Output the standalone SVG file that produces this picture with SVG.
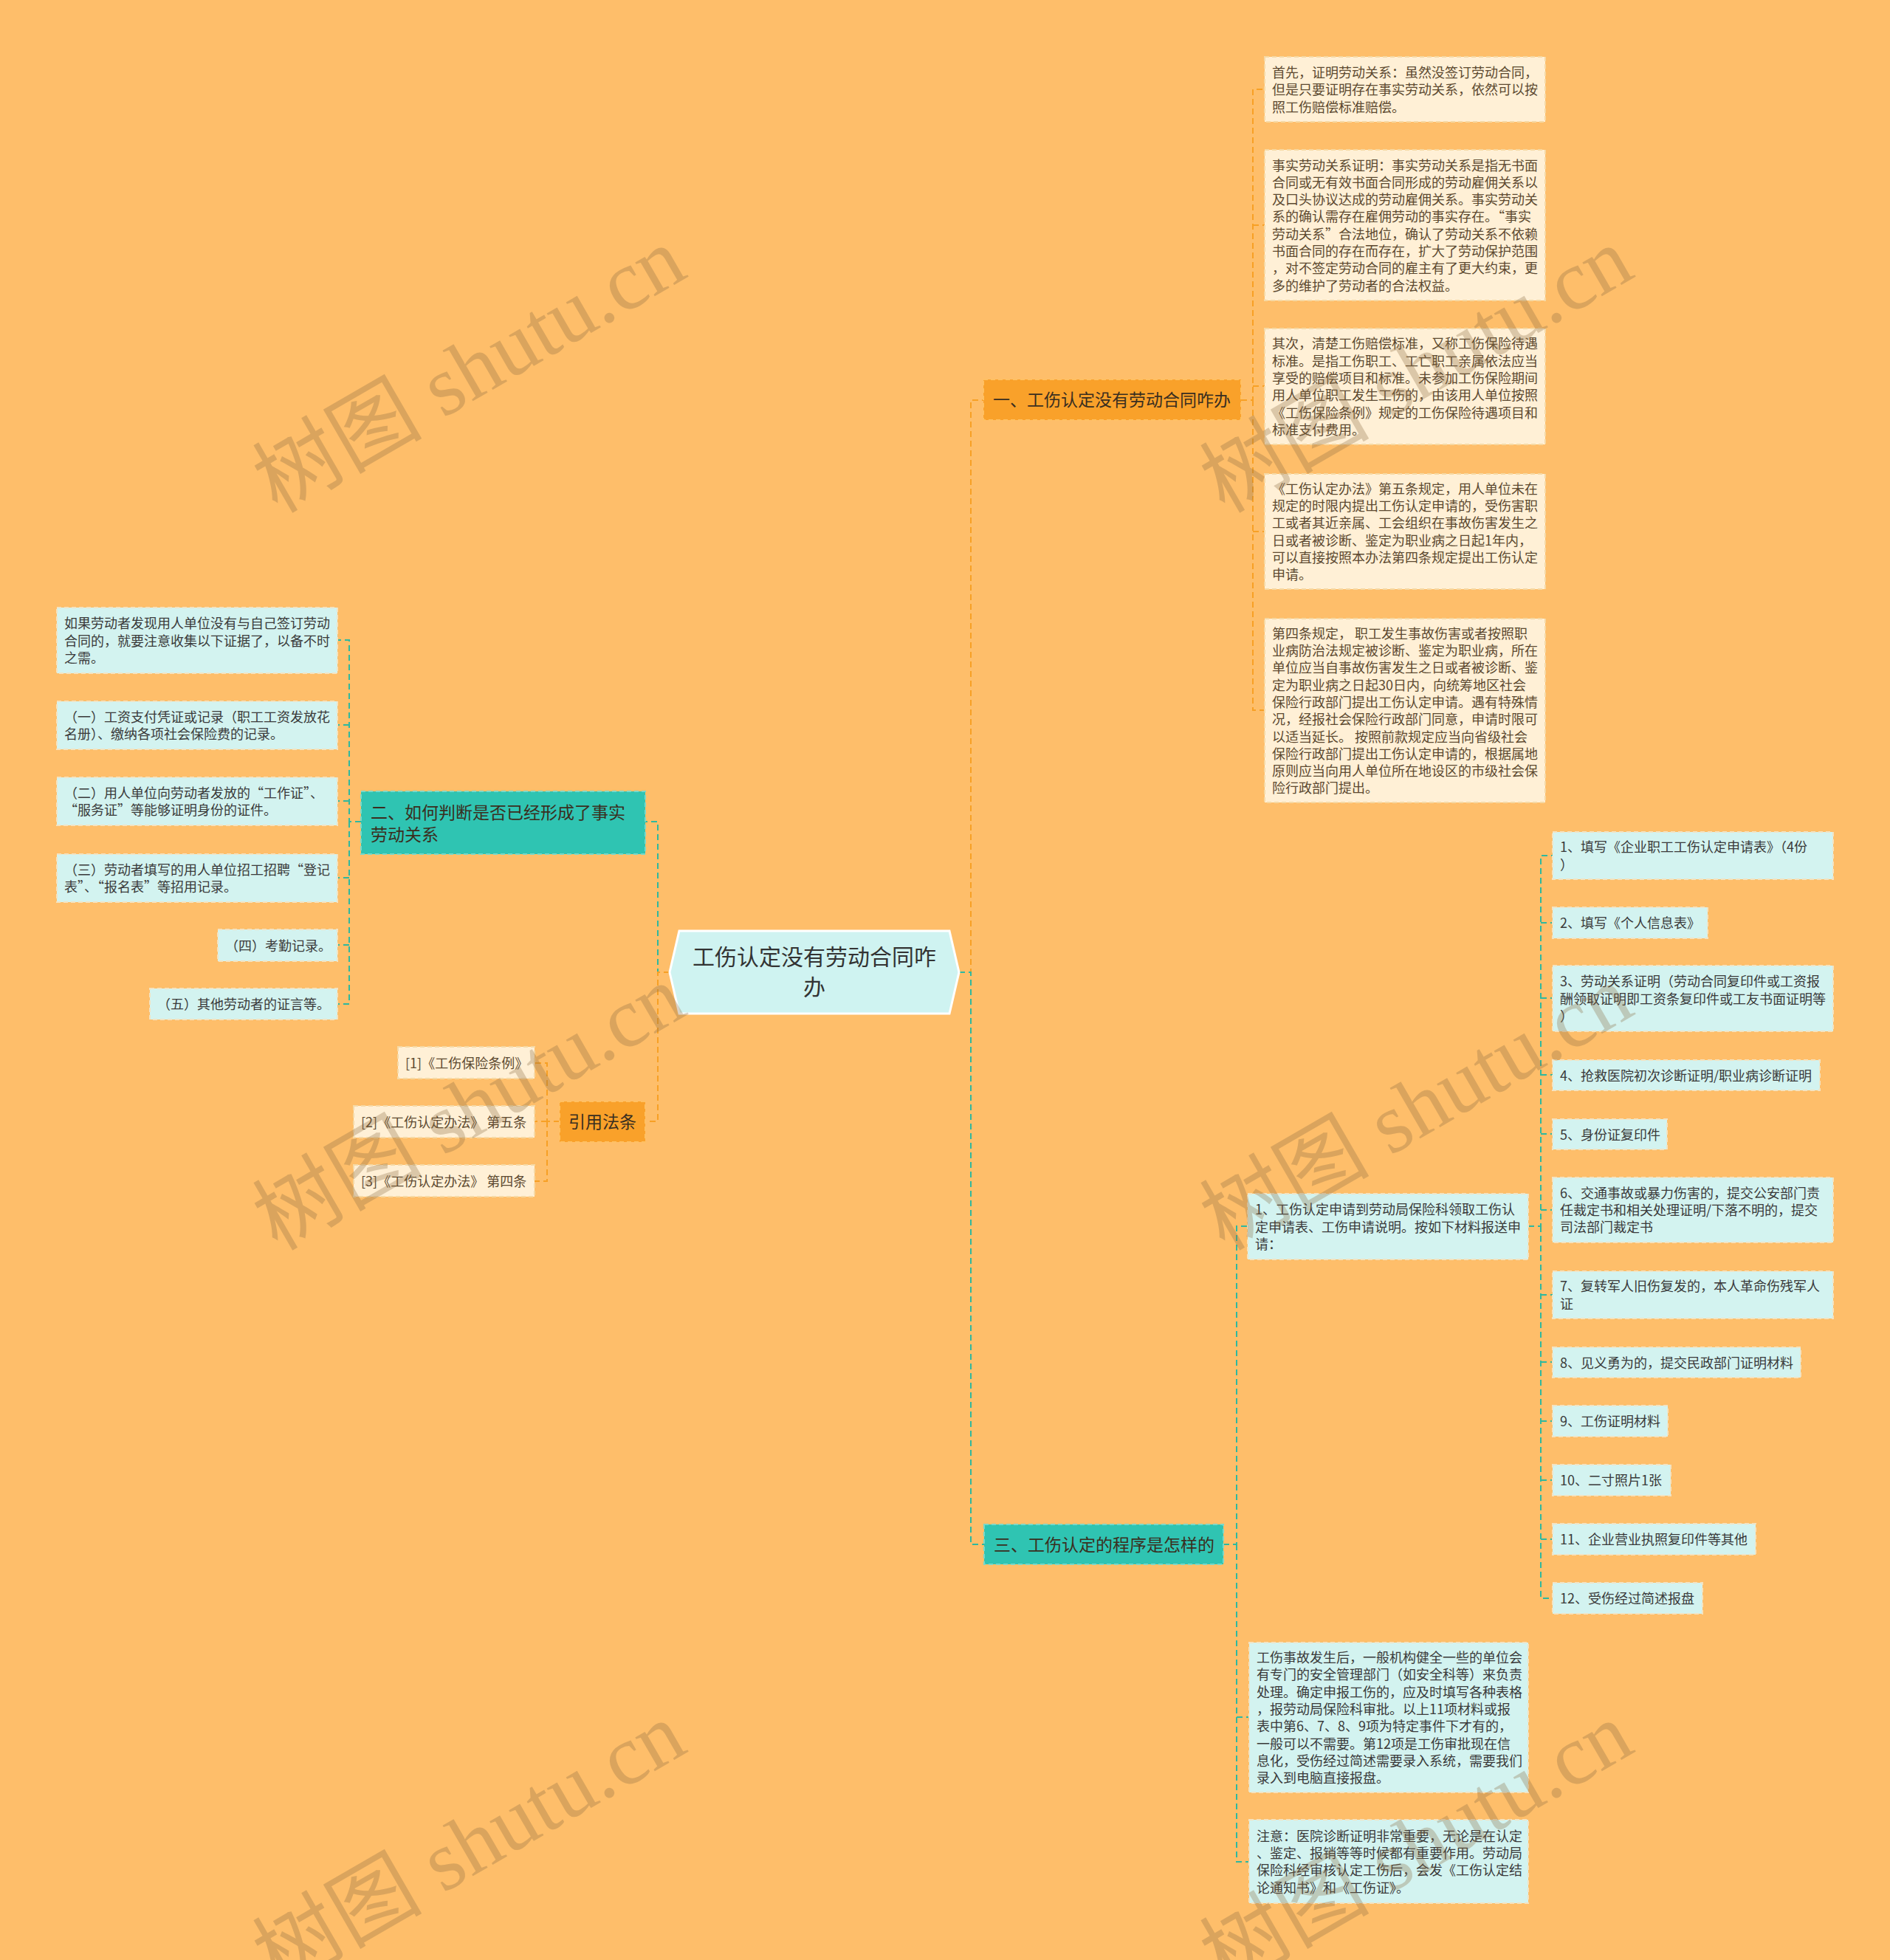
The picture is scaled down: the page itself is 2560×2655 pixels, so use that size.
<svg xmlns="http://www.w3.org/2000/svg" width="2560" height="2655" viewBox="0 0 2560 2655">
<style>
.t{font-family:"Noto Sans CJK SC","Liberation Sans",sans-serif;font-size:18px}
.tb{fill:#5C4930}
.td{fill:#3A3A3A}
.bx{fill:#FFF0D6;stroke:#F6D9A4;stroke-width:2;stroke-dasharray:6 4}
.cx{fill:#D3F3F0;stroke:#F3E3C2;stroke-width:2;stroke-dasharray:6 4}
.on{fill:#F9A12A;stroke:#FFC063;stroke-width:2;stroke-dasharray:6 4}
.tn{fill:#2FC4B2;stroke:#7AD8C8;stroke-width:2;stroke-dasharray:6 4}
.mt{font-family:"Noto Sans CJK SC","Liberation Sans",sans-serif;font-size:23px;fill:#3A2E20}
.co{fill:none;stroke:#F7A025;stroke-width:2;stroke-dasharray:8 5}
.ct{fill:none;stroke:#2EB89F;stroke-width:2;stroke-dasharray:8 5}
.wm{font-family:"Liberation Serif","Noto Sans CJK SC",serif;font-size:115px;fill:#8A6A40;opacity:0.3}
</style>
<rect x="0" y="0" width="2560" height="2655" fill="#FEBE6A"/>

<g id="connectors">
<path class="co" d="M1299 1317 H1315 V542 H1332"/>
<path class="ct" d="M1299 1317 H1315 V2092 H1333"/>
<path class="ct" d="M907 1317 H891 V1113 H874"/>
<path class="co" d="M907 1317 H891 V1519 H874"/>
<path class="co" d="M1681 542 H1697 V121 H1713 M1697 305 H1713 M1697 523 H1713 M1697 720 H1713 M1697 542 V962 H1713"/>
<path class="ct" d="M489 1113 H473 V867 H457 M473 982 H457 M473 1085 H457 M473 1113 V1360 H457 M473 1189 H457 M473 1280 H457"/>
<path class="co" d="M758 1519 H741 V1440 H724 M741 1519 H724 M741 1519 V1600 H724"/>
<path class="ct" d="M1657 2092 H1675 V1661 H1690 M1675 2092 V2522 H1692 M1675 2326 H1692"/>
<path class="ct" d="M2070 1661 H2087 V1159 H2103 M2087 1250 H2103 M2087 1352 H2103 M2087 1456 H2103 M2087 1536 H2103 M2087 1639 H2103 M2087 1661 V2165 H2103 M2087 1754 H2103 M2087 1845 H2103 M2087 1925 H2103 M2087 2005 H2103 M2087 2085 H2103"/>
</g>

<g id="center">
<polygon points="907,1317 920,1261 1286,1261 1299,1317 1286,1373 920,1373" fill="#CFF3F1" stroke="#FFFFFF" stroke-width="3"/>
<text x="1103" y="1307" text-anchor="middle" font-family="Noto Sans CJK SC, Liberation Sans, sans-serif" font-size="30" fill="#333333">工伤认定没有劳动合同咋</text>
<text x="1103" y="1348" text-anchor="middle" font-family="Noto Sans CJK SC, Liberation Sans, sans-serif" font-size="30" fill="#333333">办</text>
</g>

<g id="n1">
<rect class="on" x="1332" y="514" width="349" height="55"/>
<text class="mt" x="1345" y="550">一、工伤认定没有劳动合同咋办</text>
</g>
<g id="n1a"><rect class="bx" x="1713" y="77" width="380" height="88"/>
<text class="t tb" x="1723" y="105"><tspan x="1723">首先，证明劳动关系：虽然没签订劳动合同，</tspan><tspan x="1723" dy="23.3">但是只要证明存在事实劳动关系，依然可以按</tspan><tspan x="1723" dy="23.3">照工伤赔偿标准赔偿。</tspan></text></g>
<g id="n1b"><rect class="bx" x="1713" y="203" width="380" height="204"/>
<text class="t tb" x="1723" y="230.5"><tspan x="1723">事实劳动关系证明：事实劳动关系是指无书面</tspan><tspan x="1723" dy="23.3">合同或无有效书面合同形成的劳动雇佣关系以</tspan><tspan x="1723" dy="23.3">及口头协议达成的劳动雇佣关系。事实劳动关</tspan><tspan x="1723" dy="23.3">系的确认需存在雇佣劳动的事实存在。“事实</tspan><tspan x="1723" dy="23.3">劳动关系”合法地位，确认了劳动关系不依赖</tspan><tspan x="1723" dy="23.3">书面合同的存在而存在，扩大了劳动保护范围</tspan><tspan x="1723" dy="23.3">，对不签定劳动合同的雇主有了更大约束，更</tspan><tspan x="1723" dy="23.3">多的维护了劳动者的合法权益。</tspan></text></g>
<g id="n1c"><rect class="bx" x="1713" y="445" width="380" height="157"/>
<text class="t tb" x="1723" y="472.3"><tspan x="1723">其次，清楚工伤赔偿标准，又称工伤保险待遇</tspan><tspan x="1723" dy="23.3">标准。是指工伤职工、工亡职工亲属依法应当</tspan><tspan x="1723" dy="23.3">享受的赔偿项目和标准。未参加工伤保险期间</tspan><tspan x="1723" dy="23.3">用人单位职工发生工伤的，由该用人单位按照</tspan><tspan x="1723" dy="23.3">《工伤保险条例》规定的工伤保险待遇项目和</tspan><tspan x="1723" dy="23.3">标准支付费用。</tspan></text></g>
<g id="n1d"><rect class="bx" x="1713" y="642" width="380" height="156"/>
<text class="t tb" x="1723" y="668.8"><tspan x="1723">《工伤认定办法》第五条规定，用人单位未在</tspan><tspan x="1723" dy="23.3">规定的时限内提出工伤认定申请的，受伤害职</tspan><tspan x="1723" dy="23.3">工或者其近亲属、工会组织在事故伤害发生之</tspan><tspan x="1723" dy="23.3">日或者被诊断、鉴定为职业病之日起1年内，</tspan><tspan x="1723" dy="23.3">可以直接按照本办法第四条规定提出工伤认定</tspan><tspan x="1723" dy="23.3">申请。</tspan></text></g>
<g id="n1e"><rect class="bx" x="1713" y="838" width="380" height="249"/>
<text class="t tb" x="1723" y="864.7"><tspan x="1723">第四条规定， 职工发生事故伤害或者按照职</tspan><tspan x="1723" dy="23.3">业病防治法规定被诊断、鉴定为职业病，所在</tspan><tspan x="1723" dy="23.3">单位应当自事故伤害发生之日或者被诊断、鉴</tspan><tspan x="1723" dy="23.3">定为职业病之日起30日内，向统筹地区社会</tspan><tspan x="1723" dy="23.3">保险行政部门提出工伤认定申请。遇有特殊情</tspan><tspan x="1723" dy="23.3">况，经报社会保险行政部门同意，申请时限可</tspan><tspan x="1723" dy="23.3">以适当延长。 按照前款规定应当向省级社会</tspan><tspan x="1723" dy="23.3">保险行政部门提出工伤认定申请的，根据属地</tspan><tspan x="1723" dy="23.3">原则应当向用人单位所在地设区的市级社会保</tspan><tspan x="1723" dy="23.3">险行政部门提出。</tspan></text></g>

<g id="n2">
<rect class="tn" x="489" y="1072" width="385" height="85"/>
<text class="mt" x="502" y="1108.7"><tspan x="502">二、如何判断是否已经形成了事实</tspan><tspan x="502" dy="30">劳动关系</tspan></text>
</g>
<g id="n2a"><rect class="cx" x="77" y="823" width="380" height="89"/>
<text class="t td" x="87" y="851.2"><tspan x="87">如果劳动者发现用人单位没有与自己签订劳动</tspan><tspan x="87" dy="23.3">合同的，就要注意收集以下证据了，以备不时</tspan><tspan x="87" dy="23.3">之需。</tspan></text></g>
<g id="n2b"><rect class="cx" x="77" y="950" width="380" height="65"/>
<text class="t td" x="87" y="977.9"><tspan x="87">（一）工资支付凭证或记录（职工工资发放花</tspan><tspan x="87" dy="23.3">名册）、缴纳各项社会保险费的记录。</tspan></text></g>
<g id="n2c"><rect class="cx" x="77" y="1053" width="380" height="65"/>
<text class="t td" x="87" y="1080.9"><tspan x="87">（二）用人单位向劳动者发放的“工作证”、</tspan><tspan x="87" dy="23.3">“服务证”等能够证明身份的证件。</tspan></text></g>
<g id="n2d"><rect class="cx" x="77" y="1157" width="380" height="65"/>
<text class="t td" x="87" y="1184.9"><tspan x="87">（三）劳动者填写的用人单位招工招聘“登记</tspan><tspan x="87" dy="23.3">表”、“报名表”等招用记录。</tspan></text></g>
<g id="n2e"><rect class="cx" x="295" y="1259" width="162" height="43"/>
<text class="t td" x="305" y="1287.5">（四）考勤记录。</text></g>
<g id="n2f"><rect class="cx" x="203" y="1339" width="254" height="42"/>
<text class="t td" x="213" y="1367">（五）其他劳动者的证言等。</text></g>

<g id="n4">
<rect class="on" x="758" y="1492" width="116" height="55"/>
<text class="mt" x="816" y="1528" text-anchor="middle">引用法条</text>
</g>
<g id="n4a"><rect class="bx" x="539" y="1418" width="185" height="43"/>
<text class="t tb" x="549" y="1446.5">[1]《工伤保险条例》</text></g>
<g id="n4b"><rect class="bx" x="479" y="1498" width="245" height="43"/>
<text class="t tb" x="489" y="1526.5">[2]《工伤认定办法》 第五条</text></g>
<g id="n4c"><rect class="bx" x="479" y="1578" width="245" height="43"/>
<text class="t tb" x="489" y="1606.5">[3]《工伤认定办法》 第四条</text></g>

<g id="n3">
<rect class="tn" x="1333" y="2065" width="324" height="54"/>
<text class="mt" x="1346" y="2100.5">三、工伤认定的程序是怎样的</text>
</g>
<g id="n3a"><rect class="cx" x="1690" y="1617" width="380" height="89"/>
<text class="t td" x="1700" y="1645.2"><tspan x="1700">1、工伤认定申请到劳动局保险科领取工伤认</tspan><tspan x="1700" dy="23.3">定申请表、工伤申请说明。按如下材料报送申</tspan><tspan x="1700" dy="23.3">请：</tspan></text></g>
<g id="n3b"><rect class="cx" x="1692" y="2225" width="378" height="203"/>
<text class="t td" x="1702" y="2252"><tspan x="1702">工伤事故发生后，一般机构健全一些的单位会</tspan><tspan x="1702" dy="23.3">有专门的安全管理部门（如安全科等）来负责</tspan><tspan x="1702" dy="23.3">处理。确定申报工伤的，应及时填写各种表格</tspan><tspan x="1702" dy="23.3">，报劳动局保险科审批。以上11项材料或报</tspan><tspan x="1702" dy="23.3">表中第6、7、8、9项为特定事件下才有的，</tspan><tspan x="1702" dy="23.3">一般可以不需要。第12项是工伤审批现在信</tspan><tspan x="1702" dy="23.3">息化，受伤经过简述需要录入系统，需要我们</tspan><tspan x="1702" dy="23.3">录入到电脑直接报盘。</tspan></text></g>
<g id="n3c"><rect class="cx" x="1692" y="2465" width="378" height="113"/>
<text class="t td" x="1702" y="2493.6"><tspan x="1702">注意：医院诊断证明非常重要，无论是在认定</tspan><tspan x="1702" dy="23.3">、鉴定、报销等等时候都有重要作用。劳动局</tspan><tspan x="1702" dy="23.3">保险科经审核认定工伤后，会发《工伤认定结</tspan><tspan x="1702" dy="23.3">论通知书》和《工伤证》。</tspan></text></g>

<g id="i1"><rect class="cx" x="2103" y="1127" width="380" height="64"/>
<text class="t td" x="2113" y="1154.4"><tspan x="2113">1、填写《企业职工工伤认定申请表》（4份</tspan><tspan x="2113" dy="23.3">）</tspan></text></g>
<g id="i2"><rect class="cx" x="2103" y="1229" width="210" height="42"/>
<text class="t td" x="2113" y="1257">2、填写《个人信息表》</text></g>
<g id="i3"><rect class="cx" x="2103" y="1308" width="380" height="89"/>
<text class="t td" x="2113" y="1336.2"><tspan x="2113">3、劳动关系证明（劳动合同复印件或工资报</tspan><tspan x="2113" dy="23.3">酬领取证明即工资条复印件或工友书面证明等</tspan><tspan x="2113" dy="23.3">）</tspan></text></g>
<g id="i4"><rect class="cx" x="2103" y="1436" width="362" height="41"/>
<text class="t td" x="2113" y="1463.5">4、抢救医院初次诊断证明/职业病诊断证明</text></g>
<g id="i5"><rect class="cx" x="2103" y="1516" width="155" height="41"/>
<text class="t td" x="2113" y="1543.5">5、身份证复印件</text></g>
<g id="i6"><rect class="cx" x="2103" y="1595" width="380" height="88"/>
<text class="t td" x="2113" y="1622.7"><tspan x="2113">6、交通事故或暴力伤害的，提交公安部门责</tspan><tspan x="2113" dy="23.3">任裁定书和相关处理证明/下落不明的，提交</tspan><tspan x="2113" dy="23.3">司法部门裁定书</tspan></text></g>
<g id="i7"><rect class="cx" x="2103" y="1722" width="380" height="64"/>
<text class="t td" x="2113" y="1749.4"><tspan x="2113">7、复转军人旧伤复发的，本人革命伤残军人</tspan><tspan x="2113" dy="23.3">证</tspan></text></g>
<g id="i8"><rect class="cx" x="2103" y="1825" width="336" height="41"/>
<text class="t td" x="2113" y="1852.5">8、见义勇为的，提交民政部门证明材料</text></g>
<g id="i9"><rect class="cx" x="2103" y="1904" width="156" height="42"/>
<text class="t td" x="2113" y="1932">9、工伤证明材料</text></g>
<g id="i10"><rect class="cx" x="2103" y="1984" width="160" height="42"/>
<text class="t td" x="2113" y="2012">10、二寸照片1张</text></g>
<g id="i11"><rect class="cx" x="2103" y="2064" width="275" height="42"/>
<text class="t td" x="2113" y="2092">11、企业营业执照复印件等其他</text></g>
<g id="i12"><rect class="cx" x="2103" y="2144" width="203" height="42"/>
<text class="t td" x="2113" y="2172">12、受伤经过简述报盘</text></g>

<g id="watermarks">
<text class="wm" x="655" y="535" text-anchor="middle" transform="rotate(-30 655 535)">树图 shutu.cn</text>
<text class="wm" x="1938" y="535" text-anchor="middle" transform="rotate(-30 1938 535)">树图 shutu.cn</text>
<text class="wm" x="655" y="1534" text-anchor="middle" transform="rotate(-30 655 1534)">树图 shutu.cn</text>
<text class="wm" x="1938" y="1534" text-anchor="middle" transform="rotate(-30 1938 1534)">树图 shutu.cn</text>
<text class="wm" x="655" y="2533" text-anchor="middle" transform="rotate(-30 655 2533)">树图 shutu.cn</text>
<text class="wm" x="1938" y="2533" text-anchor="middle" transform="rotate(-30 1938 2533)">树图 shutu.cn</text>
</g>
</svg>
